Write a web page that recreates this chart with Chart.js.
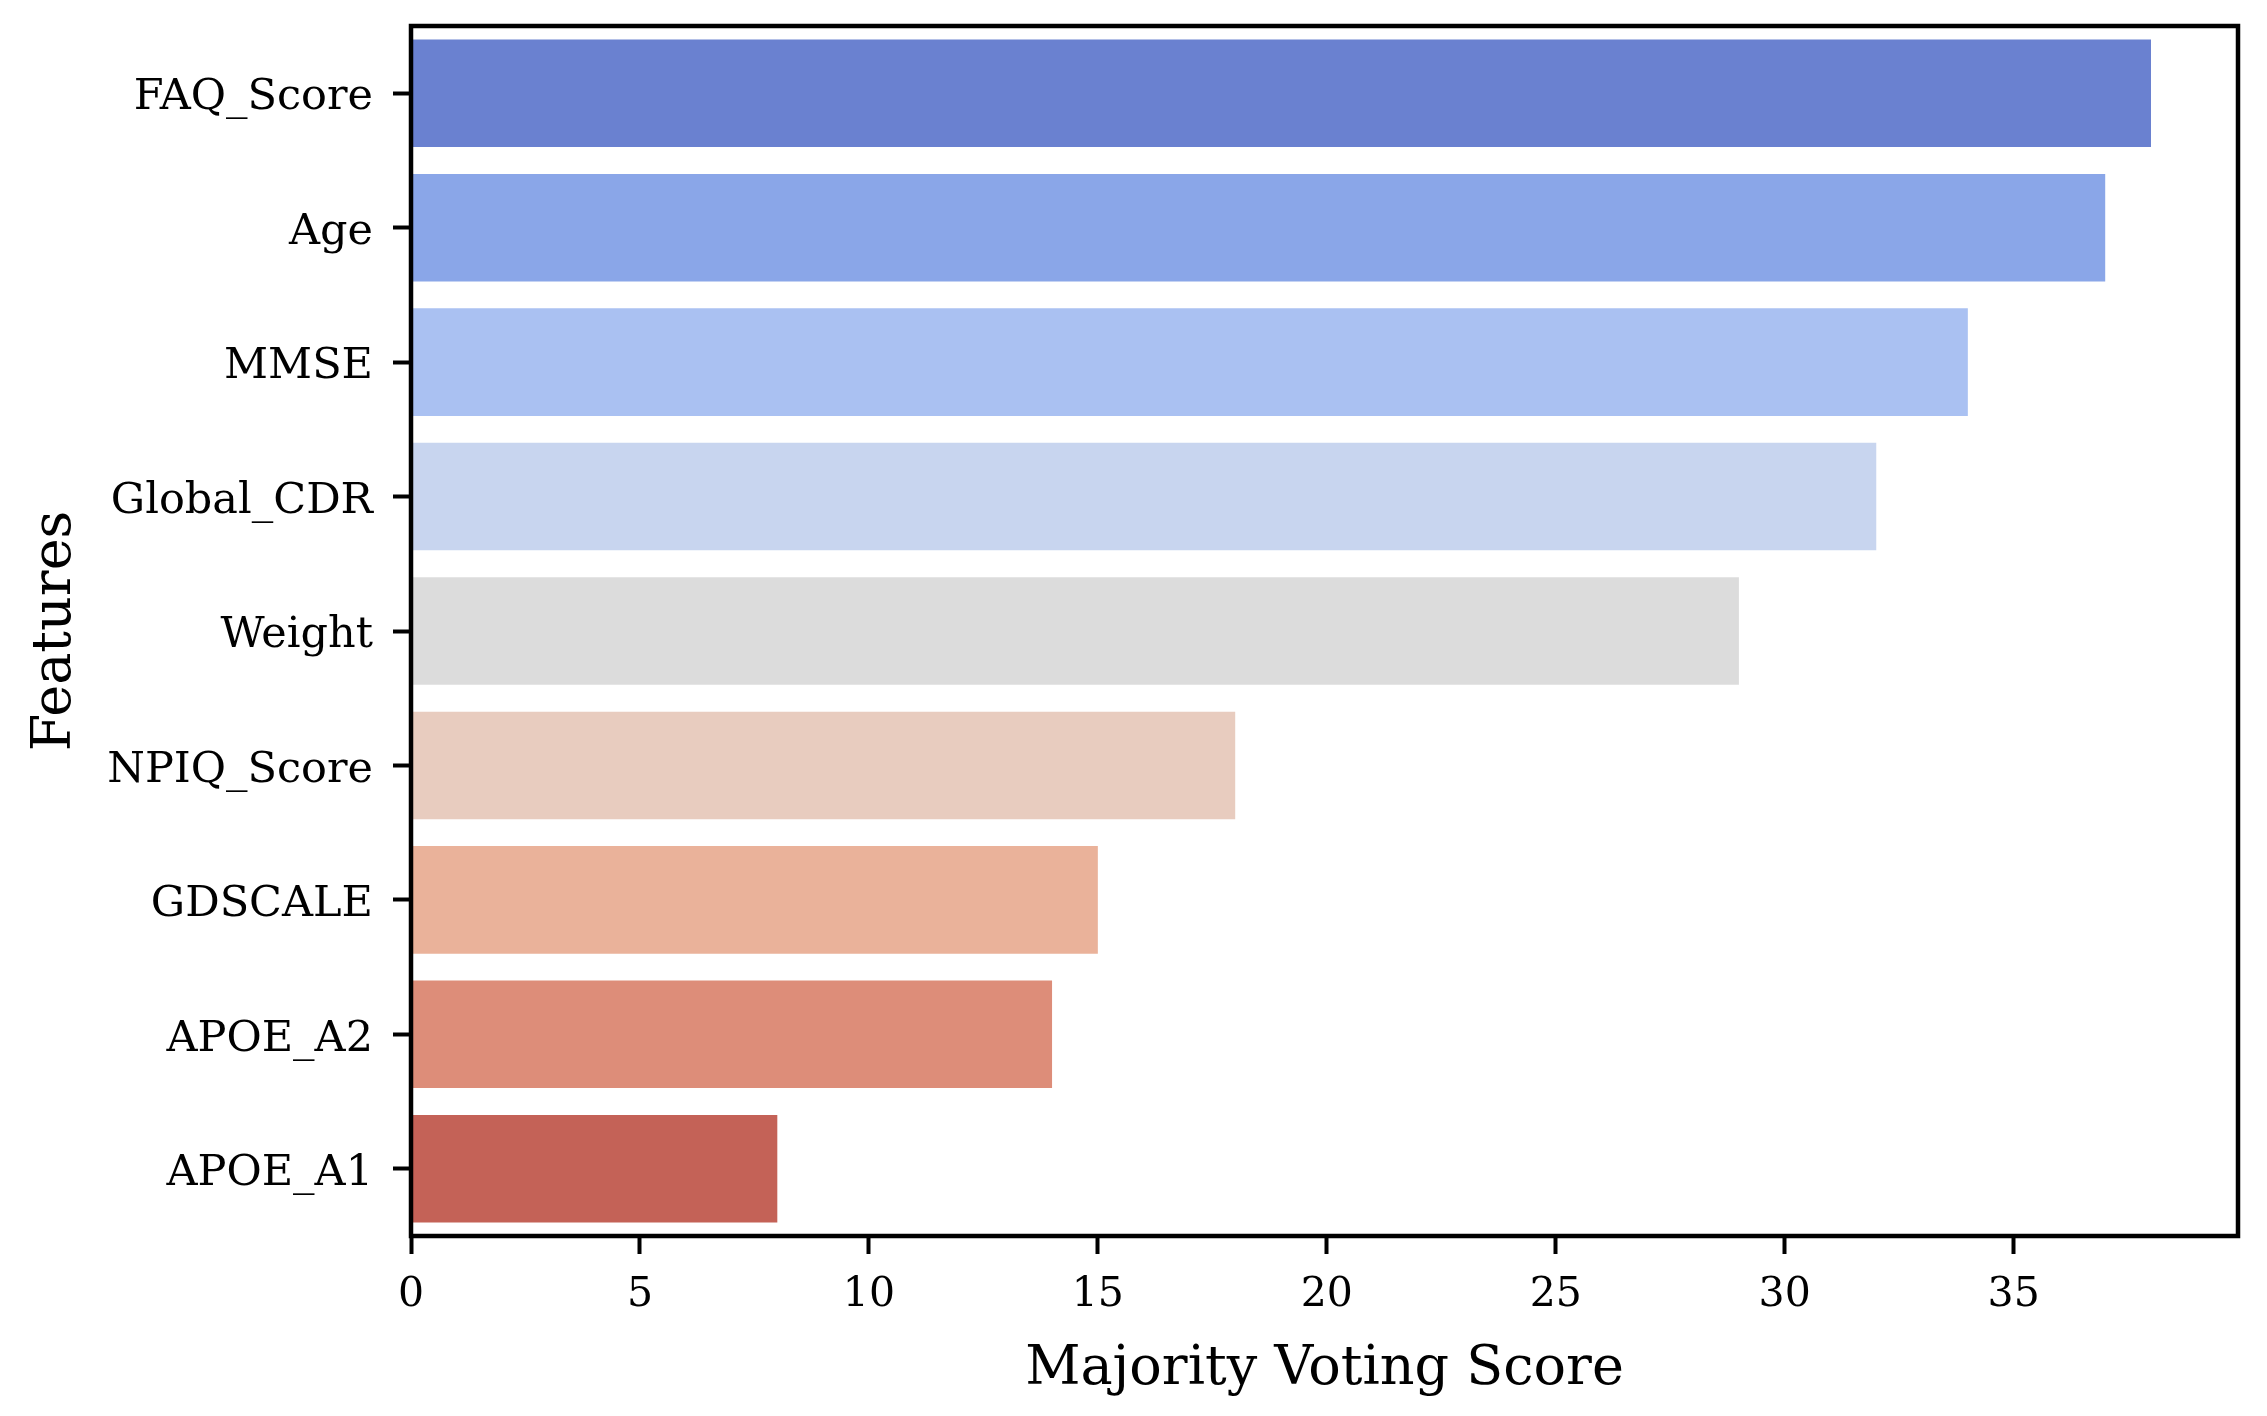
<!DOCTYPE html>
<html>
<head>
<meta charset="utf-8">
<script src="https://cdn.jsdelivr.net/npm/chart.js@4"></script>
<style>
  body { margin: 0; background: #fff; }
  canvas { display: block; }
</style>
</head>
<body>
<canvas id="myChart" width="2267" height="1416"></canvas>
<script>
const features = ['FAQ_Score', 'Age', 'MMSE', 'Global_CDR', 'Weight', 'NPIQ_Score', 'GDSCALE', 'APOE_A2', 'APOE_A1'];
const scores = [38, 37, 34, 32, 29, 18, 15, 14, 8];
const barColors = ['#6A81D0', '#8AA6E8', '#AAC1F2', '#C8D5EF', '#DCDCDC', '#E8CCBF', '#EAB29A', '#DD8D79', '#C46257'];

// full black frame round the plot, like the matplotlib spines
const frame = {
    id: 'frame',
    afterDraw(chart) {
        const a = chart.chartArea;
        const ctx = chart.ctx;
        ctx.save();
        ctx.strokeStyle = '#000';
        ctx.lineWidth = 4.5;
        ctx.strokeRect(a.left, a.top, a.right - a.left, a.bottom - a.top);
        ctx.restore();
    }
};

function createBar(context) {
    const chartInstance = new Chart(context, {
        type: 'bar',
        data: {
            labels: features,
            datasets: [{
                label: 'score',
                backgroundColor: barColors,
                borderWidth: 0,
                data: scores,
                categoryPercentage: 0.8,
                barPercentage: 1.0
            }]
        },
        options: {
            indexAxis: 'y',
            responsive: false,
            animation: false,
            devicePixelRatio: 1,
            layout: { padding: { top: 26, right: 29, left: 0, bottom: 0 } },
            plugins: { legend: { display: false }, tooltip: { enabled: false } },
            scales: {
                x: {
                    min: 0,
                    max: 39.9,
                    afterFit: (s) => { s.height = 1416 - 1236; },
                    border: { display: false },
                    grid: { drawOnChartArea: false, tickLength: 18, tickWidth: 4, tickColor: '#000' },
                    ticks: {
                        stepSize: 5,
                        includeBounds: false,
                        color: '#000',
                        padding: 17,
                        font: { family: 'DejaVu Serif', size: 41 }
                    },
                    title: {
                        display: true,
                        text: 'Majority Voting Score',
                        color: '#000',
                        padding: { top: 0, bottom: 14 },
                        font: { family: 'DejaVu Serif', size: 54 }
                    }
                },
                y: {
                    afterFit: (s) => { s.width = 411; s.paddingTop = 0; s.paddingBottom = 0; },
                    border: { display: false },
                    grid: { offset: false, drawOnChartArea: false, tickLength: 18, tickWidth: 4, tickColor: '#000' },
                    ticks: {
                        color: '#000',
                        padding: 20,
                        labelOffset: 5,
                        font: { family: 'DejaVu Serif', size: 43 }
                    },
                    title: {
                        display: true,
                        text: 'Features',
                        color: '#000',
                        padding: { top: 24, bottom: 0 },
                        font: { family: 'DejaVu Serif', size: 54 }
                    }
                }
            }
        },
        plugins: [frame]
    });
}

createBar('myChart');
</script>
</body>
</html>
